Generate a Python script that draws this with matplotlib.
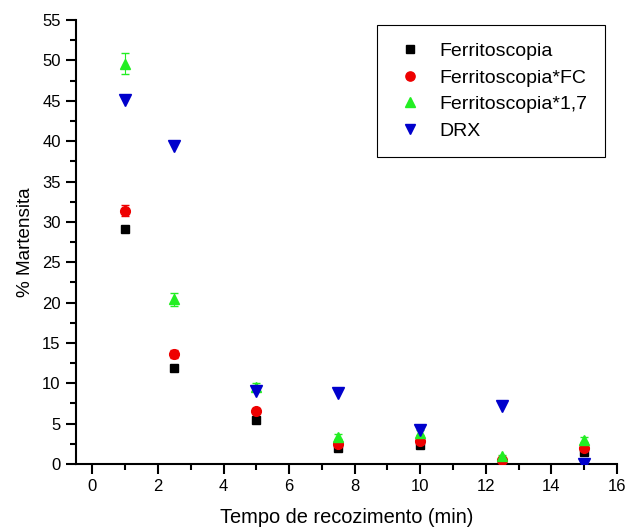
import matplotlib
matplotlib.use("Agg")
import matplotlib.pyplot as plt
from matplotlib.ticker import MultipleLocator
from matplotlib.lines import Line2D

plt.rcParams['font.family'] = ['Liberation Sans', 'DejaVu Sans']

tempo = [1, 2.5, 5, 7.5, 10, 12.5, 15]
ferrito = [29.1, 11.9, 5.5, 2.0, 2.3, 0.3, 1.5]
ferrito_fc = [31.4, 13.6, 6.6, 2.5, 2.8, 0.5, 2.0]
ferrito_fc_err = [0.7, 0.5, 0.3, 0.2, 0.2, 0.1, 0.2]
ferrito_17 = [49.6, 20.4, 9.6, 3.4, 3.9, 1.0, 3.0]
ferrito_17_err = [1.3, 0.8, 0.4, 0.3, 0.3, 0.1, 0.3]
drx = [45.1, 39.4, 9.1, 8.8, 4.2, 7.2, 0.0]
labels = ['Ferritoscopia', 'Ferritoscopia*FC', 'Ferritoscopia*1,7', 'DRX']
colors = ['black', '#ee0000', '#22ee22', '#0000cc']
markers = ['s', 'o', '^', 'v']
sizes = [5.8, 7, 7.8, 8]

fig = plt.figure(figsize=(6.25, 5.3), dpi=100)
ax = fig.add_axes([0.1216, 0.1245, 0.8654, 0.8375])

ax.plot(tempo, ferrito, markers[0], color=colors[0], ms=sizes[0], zorder=3)
ax.errorbar(tempo, ferrito_fc, yerr=ferrito_fc_err, fmt=markers[1], color=colors[1], ms=sizes[1],
            elinewidth=0.8, capsize=3, zorder=3)
ax.errorbar(tempo, ferrito_17, yerr=ferrito_17_err, fmt=markers[2], color=colors[2], ms=sizes[2],
            elinewidth=0.8, capsize=3, zorder=3)
ax.plot(tempo, drx, markers[3], color=colors[3], ms=sizes[3], zorder=4)

ax.set_xlim(-0.5, 16)
ax.set_ylim(0, 55)
ax.xaxis.set_major_locator(MultipleLocator(2))
ax.xaxis.set_minor_locator(MultipleLocator(1))
ax.yaxis.set_major_locator(MultipleLocator(5))
ax.yaxis.set_minor_locator(MultipleLocator(2.5))
ax.spines['top'].set_visible(False)
ax.spines['right'].set_visible(False)
for s in ('left', 'bottom'):
    ax.spines[s].set_linewidth(1.5)
ax.tick_params(which='major', direction='out', length=7, width=1.5, labelsize=12, pad=4)
ax.tick_params(which='minor', direction='out', length=4, width=1.5)

ax.set_xlabel('Tempo de recozimento (min)', fontsize=14.4, labelpad=10)
ax.set_ylabel('% Martensita', fontsize=13.6, labelpad=6)

handles = [Line2D([], [], linestyle='none', marker=m, color=c, ms=s * 0.95)
           for m, c, s in zip(markers, colors, sizes)]
leg = ax.legend(handles, labels, loc='upper right', bbox_to_anchor=(0.978, 0.989), fontsize=14,
                frameon=True, fancybox=False, edgecolor='black', framealpha=1, borderaxespad=0,
                handletextpad=0.7, borderpad=0.9, labelspacing=0.46, handlelength=1.6)
leg.get_frame().set_linewidth(0.8)

fig.savefig('out.png', dpi=100)
